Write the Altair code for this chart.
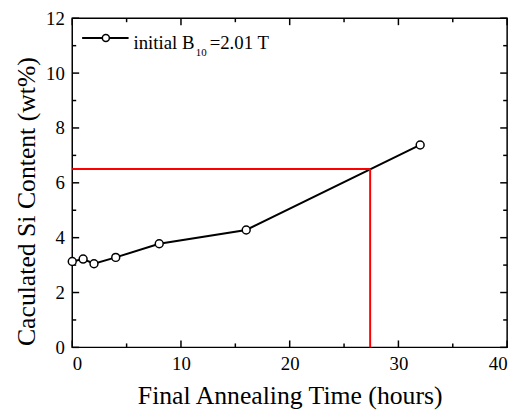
import altair as alt
import pandas as pd

# Data
hours = [0, 1, 2, 4, 8, 16, 32]
si_content = [3.13, 3.22, 3.05, 3.28, 3.78, 4.28, 7.38]

# Red guide lines (target Si content and corresponding time)
target_si = 6.5
target_time = 27.4

x_major = [0, 10, 20, 30, 40]
x_minor = [5, 15, 25, 35]
y_major = [0, 2, 4, 6, 8, 10, 12]
y_minor = [1, 3, 5, 7, 9, 11]

FONT = "Liberation Serif, DejaVu Serif"
W, H = 440, 333

df = pd.DataFrame({"t": hours, "si": si_content})
xs = alt.Scale(domain=[0, 40], nice=False)
ys = alt.Scale(domain=[0, 12], nice=False)

axis_style = dict(grid=False, ticks=False, domain=False,
                  labelFont=FONT, labelFontSize=19, labelColor="black",
                  titleFont=FONT, titleFontSize=26, titleFontWeight="normal",
                  titleColor="black")

xenc = alt.X("t:Q", scale=xs,
             axis=alt.Axis(values=x_major, title="Final Annealing Time (hours)",
                           labelPadding=7, titlePadding=10, **axis_style))
yenc = alt.Y("si:Q", scale=ys,
             axis=alt.Axis(values=y_major, title="Caculated Si Content (wt%)",
                           labelPadding=8, titlePadding=6, titleY=185, **axis_style))

line = alt.Chart(df).mark_line(color="black", strokeWidth=2).encode(x=xenc, y=yenc)

# red guide lines
guide_df = pd.DataFrame({"x0": [0, target_time], "x1": [target_time, target_time],
                         "y0": [target_si, 0], "y1": [target_si, target_si]})
guides = alt.Chart(guide_df).mark_rule(color="#ff0000", strokeWidth=2).encode(
    x=alt.X("x0:Q", scale=xs), x2="x1:Q",
    y=alt.Y("y0:Q", scale=ys), y2="y1:Q")

pts = alt.Chart(df).mark_point(shape="circle", filled=True, fill="white", stroke="black",
                               strokeWidth=1.5, size=64, opacity=1).encode(
    x=alt.X("t:Q", scale=xs), y=alt.Y("si:Q", scale=ys))

# inward ticks on all four sides
tick_layers = []
for vals, length in [(x_major, 7), (x_minor, 4)]:
    d = pd.DataFrame({"xv": vals})
    for y0, y1 in [(H, H - length), (0, length)]:
        tick_layers.append(
            alt.Chart(d).mark_rule(color="black", strokeWidth=1.5).encode(
                x=alt.X("xv:Q", scale=xs), y=alt.value(y0), y2=alt.value(y1)))
for vals, length in [(y_major, 7), (y_minor, 4)]:
    d = pd.DataFrame({"yv": vals})
    for x0, x1 in [(0, length), (W, W - length)]:
        tick_layers.append(
            alt.Chart(d).mark_rule(color="black", strokeWidth=1.5).encode(
                y=alt.Y("yv:Q", scale=ys), x=alt.value(x0), x2=alt.value(x1)))

# legend
one = pd.DataFrame({"a": [0]})
leg_line = alt.Chart(one).mark_rule(color="black", strokeWidth=2).encode(
    x=alt.value(10), x2=alt.value(57), y=alt.value(20))
leg_pt = alt.Chart(one).mark_point(shape="circle", filled=True, fill="white",
                                   stroke="black", strokeWidth=1.5, size=50,
                                   opacity=1).encode(x=alt.value(34), y=alt.value(20))
leg_t1 = alt.Chart(one).mark_text(text="initial B", font=FONT, fontSize=19,
                                  align="left", baseline="alphabetic", color="black").encode(
    x=alt.value(62), y=alt.value(31))
leg_t2 = alt.Chart(one).mark_text(text="10", font=FONT, fontSize=11,
                                  align="left", baseline="alphabetic", color="black").encode(
    x=alt.value(125), y=alt.value(38))
leg_t3 = alt.Chart(one).mark_text(text="=2.01 T", font=FONT, fontSize=19,
                                  align="left", baseline="alphabetic", color="black").encode(
    x=alt.value(139), y=alt.value(31))

chart = alt.layer(line, guides, *tick_layers, pts, leg_line, leg_pt,
                  leg_t1, leg_t2, leg_t3).properties(
    width=W, height=H,
    autosize=alt.AutoSizeParams(type="none"),
    padding={"left": 65, "top": 8, "right": 12, "bottom": 62},
).configure_view(stroke="black", strokeWidth=1.5)

chart.save("out.html", embed_options={"renderer": "svg", "actions": False})
